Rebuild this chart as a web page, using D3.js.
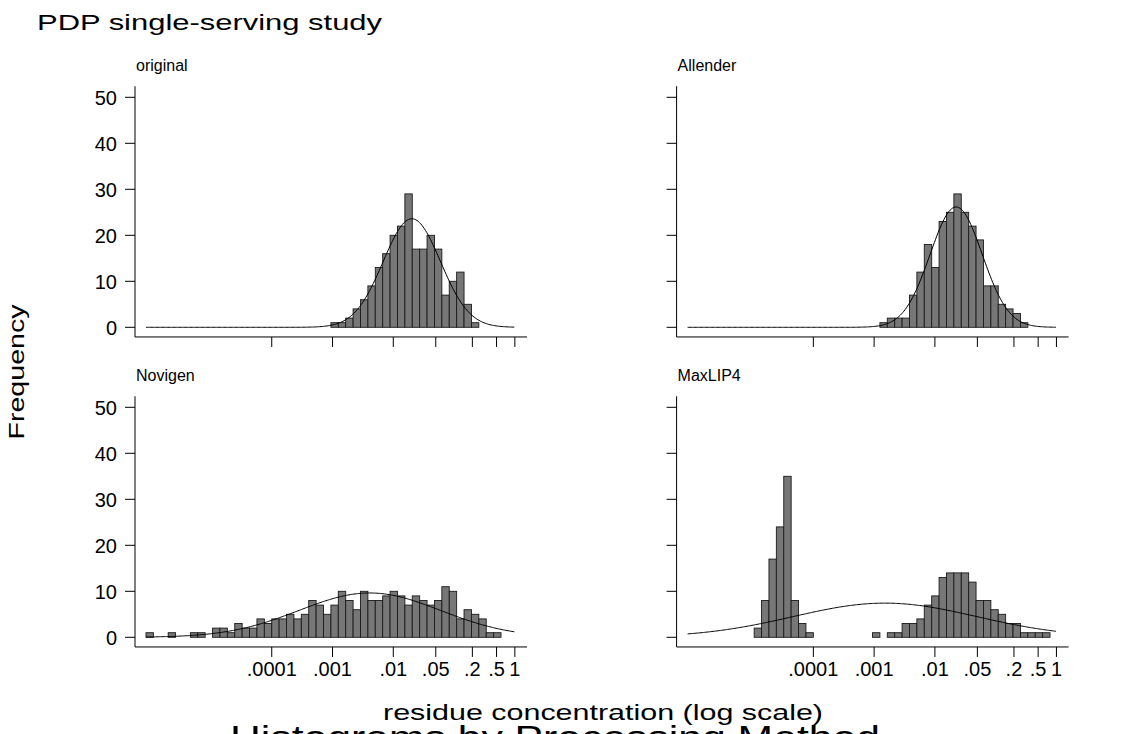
<!DOCTYPE html>
<html>
<head>
<meta charset="utf-8">
<script src="https://cdn.jsdelivr.net/npm/d3@7"></script>
<style>
  body { margin: 0; background: #fff; }
  svg text { font-family: "Liberation Sans", Arial, sans-serif; fill: #000; }
</style>
</head>
<body>
<svg id="chart" width="1135" height="734"></svg>
<script>
// histogram bins are shared by all panels, in log10(residue) units
var binStart = -6.069,
    binWidth = 0.1217;

var methods = ["original", "Allender", "Novigen", "MaxLIP4"];
var firstBin = [25, 26, 0, 9];

var originalCounts = [1, 1, 2, 4, 6, 9, 13, 16, 20, 22, 29, 17, 17, 20, 17, 7, 10, 12, 5, 1];
var allenderCounts = [1, 2, 2, 2, 7, 12, 18, 13, 23, 25, 29, 25, 22, 19, 9, 9, 5, 4, 3, 1];
var novigenCounts = [1, 0, 0, 1, 0, 0, 1, 1, 0, 2, 2, 1, 3, 2, 2, 4, 3, 4, 4, 5, 4, 5, 8, 7,
                     5, 7, 10, 8, 6, 10, 8, 8, 9, 10, 9, 7, 9, 8, 7, 8, 11, 10, 4, 6, 5, 4, 1, 1];
var maxlipCounts = [2, 8, 17, 24, 35, 8, 3, 1, 0, 0, 0, 0, 0, 0, 0, 0, 1, 0, 1, 1, 3, 3, 4, 7,
                    9, 13, 14, 14, 14, 12, 8, 8, 6, 5, 3, 3, 1, 1, 1, 1];

var xTickValues = [0.0001, 0.001, 0.01, 0.05, 0.2, 0.5, 1];
var xTickLabels = [".0001", ".001", ".01", ".05", ".2", ".5", "1"];
var yTickValues = [0, 10, 20, 30, 40, 50];

var allCounts = [originalCounts, allenderCounts, novigenCounts, maxlipCounts];

var svg = d3.select("#chart");

// panel layout: x offset for column, y offset for row
var colX = [0, 541.6],
    rowY = [0, 310];

var xScale = d3.scaleLog().domain([Math.pow(10, -6.25), Math.pow(10, 0.2)]).range([135, 527]);
var yScale = d3.scaleLinear().domain([0, 50]).range([327.3, 97.3]);
var yTop = 52.4, yBottom = -2.1;

var line = d3.line()
    .x(function(d) { return xScale(Math.pow(10, d.x)); })
    .y(function(d) { return yScale(d.y); });

// stretch text horizontally to a given width, like the original rendering
function stretch(sel, w) {
  sel.attr("textLength", w).attr("lengthAdjust", "spacingAndGlyphs");
}

methods.forEach(function(name, i) {
  var col = i % 2, row = Math.floor(i / 2);
  var g = svg.append("g")
      .attr("class", "panel")
      .attr("transform", "translate(" + colX[col] + "," + rowY[row] + ")");

  var bins = allCounts[i].map(function(c, k) {
    var lo = binStart + (firstBin[i] + k) * binWidth;
    return {lo: lo, hi: lo + binWidth, count: c};
  }).filter(function(b) { return b.count > 0; });

  // normal density with the mean and sd of the binned data
  var n = d3.sum(bins, function(b) { return b.count; });
  var mean = d3.sum(bins, function(b) { return b.count * (b.lo + b.hi) / 2; }) / n;
  var sd = Math.sqrt(d3.sum(bins, function(b) {
    var m = (b.lo + b.hi) / 2 - mean; return b.count * m * m; }) / (n - 1));

  g.selectAll(".bar")
    .data(bins)
    .enter().append("rect")
      .attr("class", "bar")
      .attr("x", function(d) { return xScale(Math.pow(10, d.lo)); })
      .attr("width", function(d) { return xScale(Math.pow(10, d.hi)) - xScale(Math.pow(10, d.lo)); })
      .attr("y", function(d) { return yScale(d.count); })
      .attr("height", function(d) { return yScale(0) - yScale(d.count); })
      .attr("fill", "#777777")
      .attr("stroke", "#1a1a1a")
      .attr("stroke-width", 0.9);

  var curve = d3.range(binStart, 0.0001, 0.02).map(function(x) {
    var z = (x - mean) / sd;
    return {x: x, y: n * binWidth * Math.exp(-0.5 * z * z) / (sd * Math.sqrt(2 * Math.PI))};
  });
  g.append("path")
      .attr("d", line(curve))
      .attr("fill", "none")
      .attr("stroke", "#000")
      .attr("stroke-width", 1);

  // y axis
  g.append("line")
      .attr("x1", xScale.range()[0]).attr("x2", xScale.range()[0])
      .attr("y1", yScale(yTop)).attr("y2", yScale(yBottom))
      .attr("stroke", "#000");
  g.selectAll(".ytick")
    .data(yTickValues)
    .enter().append("line")
      .attr("x1", xScale.range()[0] - 10).attr("x2", xScale.range()[0])
      .attr("y1", function(d) { return yScale(d); })
      .attr("y2", function(d) { return yScale(d); })
      .attr("stroke", "#000");
  if (col === 0) {
    g.selectAll(".ylab")
      .data(yTickValues)
      .enter().append("text")
        .attr("x", xScale.range()[0] - 18)
        .attr("y", function(d) { return yScale(d); })
        .attr("dy", "0.36em")
        .attr("text-anchor", "end")
        .style("font-size", "20px")
        .text(function(d) { return d; });
  }

  // x axis
  g.append("line")
      .attr("x1", xScale.range()[0]).attr("x2", xScale.range()[1])
      .attr("y1", yScale(yBottom)).attr("y2", yScale(yBottom))
      .attr("stroke", "#000");
  g.selectAll(".xtick")
    .data(xTickValues)
    .enter().append("line")
      .attr("x1", function(d) { return xScale(d); })
      .attr("x2", function(d) { return xScale(d); })
      .attr("y1", yScale(yBottom)).attr("y2", yScale(yBottom) + 10)
      .attr("stroke", "#000");
  if (row === 1) {
    g.selectAll(".xlab")
      .data(xTickValues)
      .enter().append("text")
        .attr("x", function(d) { return xScale(d); })
        .attr("y", yScale(yBottom) + 29)
        .attr("text-anchor", "middle")
        .style("font-size", "20px")
        .text(function(d, k) { return xTickLabels[k]; });
  }

  g.append("text")
      .attr("x", xScale.range()[0] + 1)
      .attr("y", yScale(yTop) - 15)
      .style("font-size", "16px")
      .text(name);
});

svg.append("text")
    .attr("x", 37).attr("y", 30)
    .style("font-size", "22px")
    .text("PDP single-serving study")
    .call(stretch, 345);

svg.append("text")
    .attr("transform", "translate(24,372) rotate(-90)")
    .attr("text-anchor", "middle")
    .style("font-size", "22px")
    .text("Frequency")
    .call(stretch, 135);

svg.append("text")
    .attr("x", 603).attr("y", 720)
    .attr("text-anchor", "middle")
    .style("font-size", "22px")
    .text("residue concentration (log scale)")
    .call(stretch, 440);

// graph note, cut off by the bottom edge as in the original
svg.append("text")
    .attr("x", 230).attr("y", 749)
    .style("font-size", "34px")
    .text("Histograms by Processing Method")
    .call(stretch, 650);
</script>
</body>
</html>
